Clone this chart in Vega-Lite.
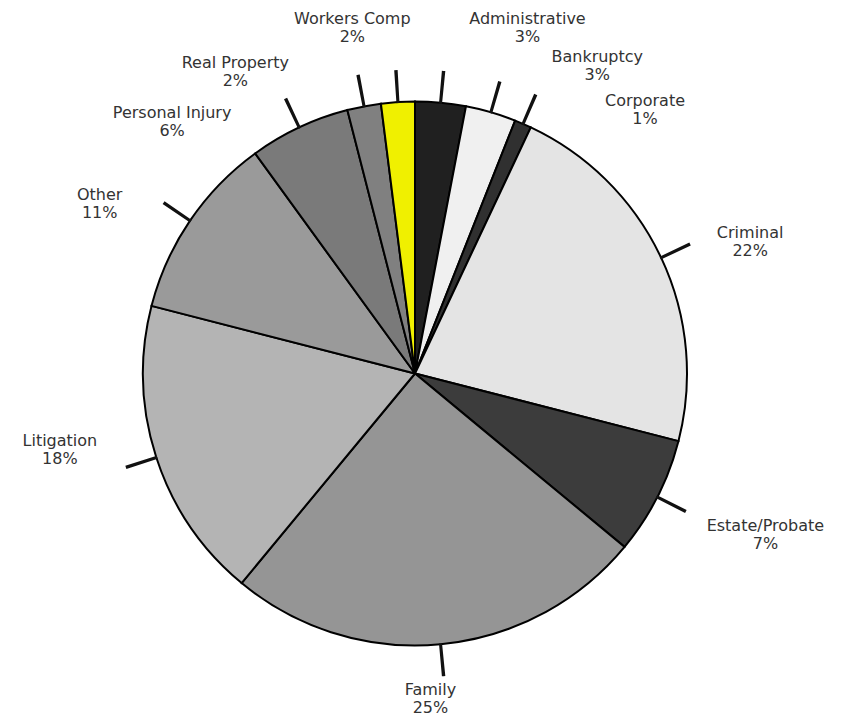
{
  "$schema": "https://vega.github.io/schema/vega-lite/v6.json",
  "width": 841,
  "height": 721,
  "autosize": {"type": "fit", "contains": "padding"},
  "padding": {"left": 0, "top": 24, "right": 11, "bottom": 0},
  "background": "white",
  "data": {
    "values": [
      {"category": "Administrative", "value": 3},
      {"category": "Bankruptcy", "value": 3},
      {"category": "Corporate", "value": 1},
      {"category": "Criminal", "value": 22},
      {"category": "Estate/Probate", "value": 7},
      {"category": "Family", "value": 25},
      {"category": "Litigation", "value": 18},
      {"category": "Other", "value": 11},
      {"category": "Personal Injury", "value": 6},
      {"category": "Real Property", "value": 2},
      {"category": "Workers Comp", "value": 2}
    ]
  },
  "layer": [
    {
      "mark": {"type": "arc", "outerRadius": 272, "stroke": "#000000", "strokeWidth": 2},
      "encoding": {
        "theta": {"field": "value", "type": "quantitative", "stack": true, "scale": {"domain": [0, 100]}},
        "color": {
          "field": "category",
          "type": "nominal",
          "legend": null,
          "scale": {
            "domain": ["Administrative", "Bankruptcy", "Corporate", "Criminal", "Estate/Probate", "Family", "Litigation", "Other", "Personal Injury", "Real Property", "Workers Comp"],
            "range": ["#202020", "#f0f0f0", "#303030", "#e4e4e4", "#3c3c3c", "#959595", "#b4b4b4", "#9a9a9a", "#7a7a7a", "#808080", "#f0f000"]
          }
        }
      }
    },
    {
      "transform": [
        {"window": [{"op": "sum", "field": "value", "as": "cum"}], "sort": [{"field": "category"}], "frame": [null, 0]},
        {"calculate": "datum.cum - datum.value / 2", "as": "mid"},
        {"calculate": "datum.mid - 0.09", "as": "m0"},
        {"calculate": "datum.mid + 0.09", "as": "m1"},
        {"calculate": "datum.category + '\\n' + datum.value + '%'", "as": "label"}
      ],
      "layer": [
        {
          "mark": {"type": "arc", "outerRadius": 304, "innerRadius": 271, "color": "#111111"},
          "encoding": {
            "theta": {"field": "m0", "type": "quantitative", "stack": null, "scale": {"domain": [0, 100]}},
            "theta2": {"field": "m1"}
          }
        },
        {
          "mark": {
            "type": "text",
            "radius": 345,
            "font": "DejaVu Sans",
            "fontSize": 16,
            "color": "#333333",
            "lineBreak": "\n",
            "align": "center",
            "baseline": "middle",
            "dx": {"expr": "({'Administrative': 80, 'Bankruptcy': 86, 'Corporate': 93, 'Criminal': 23, 'Estate/Probate': 43, 'Family': -17, 'Litigation': -27, 'Other': -30, 'Personal Injury': -96, 'Real Property': -115, 'Workers Comp': -41})[datum.category]"},
            "dy": {"expr": "({'Administrative': -11, 'Bankruptcy': 15, 'Corporate': 44, 'Criminal': 6, 'Estate/Probate': -4, 'Family': -27, 'Litigation': -39, 'Other': 15, 'Personal Injury': 52, 'Real Property': 28, 'Workers Comp': -10})[datum.category]"}
          },
          "encoding": {
            "theta": {"field": "mid", "type": "quantitative", "stack": null, "scale": {"domain": [0, 100]}},
            "text": {"field": "label"}
          }
        }
      ]
    }
  ]
}
